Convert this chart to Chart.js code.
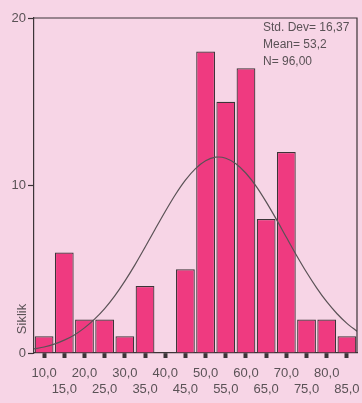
<!DOCTYPE html>
<html>
<head>
<meta charset="utf-8">
<script src="https://cdn.jsdelivr.net/npm/chart.js@4.4.1/dist/chart.umd.min.js"></script>
<style>
    html, body { margin: 0; padding: 0; background: #f7d5e6; }
    #wrap { width: 362px; height: 403px; position: relative; }
</style>
</head>
<body>
<div id="wrap"><canvas id="myChart"></canvas></div>
<script>
// histogram bins (midpoints) and counts
const binMids = [10, 15, 20, 25, 30, 35, 40, 45, 50, 55, 60, 65, 70, 75, 80, 85];
const binLabels = ['10,0', '15,0', '20,0', '25,0', '30,0', '35,0', '40,0', '45,0',
                   '50,0', '55,0', '60,0', '65,0', '70,0', '75,0', '80,0', '85,0'];
const counts = [1, 6, 2, 2, 1, 4, 0, 5, 18, 15, 17, 8, 12, 2, 2, 1];

// normal curve
const curveX = [7.5, 10, 12.5, 15, 17.5, 20, 22.5, 25, 27.5, 30, 32.5, 35, 37.5, 40, 42.5,
                45, 47.5, 50, 52.5, 55, 57.5, 60, 62.5, 65, 67.5, 70, 72.5, 75, 77.5, 80,
                82.5, 85, 87.5];
const curveY = [0.24, 0.36, 0.53, 0.77, 1.08, 1.50, 2.02, 2.65, 3.41, 4.29, 5.26, 6.31, 7.39,
                8.45, 9.45, 10.32, 11.01, 11.48, 11.69, 11.63, 11.30, 10.73, 9.96, 9.02, 7.99,
                6.91, 5.84, 4.82, 3.89, 3.06, 2.36, 1.77, 1.30];

const yTicks = [0, 10, 20];
const stats = ['Std. Dev= 16,37', 'Mean= 53,2', 'N= 96,00'];
const yTitle = 'Siklik';

const ink = '#3c3438';
const textColor = '#5a5256';
const font = '"Liberation Sans", Arial, sans-serif';

const extras = {
    id: 'extras',
    afterDatasetsDraw(chart) {
        const { ctx, chartArea: a } = chart;
        ctx.save();
        ctx.strokeStyle = ink;
        ctx.lineWidth = 1.2;
        ctx.beginPath();
        ctx.moveTo(a.left, a.top);
        ctx.lineTo(a.right, a.top);
        ctx.lineTo(a.right, a.bottom);
        ctx.stroke();

        ctx.fillStyle = textColor;
        ctx.font = '12px ' + font;
        ctx.textBaseline = 'middle';
        ctx.textAlign = 'left';
        stats.forEach((s, i) => ctx.fillText(s, a.right - 94, a.top + 10 + i * 17));

        ctx.font = '13px ' + font;
        ctx.translate(22, a.bottom - 34);
        ctx.rotate(-Math.PI / 2);
        ctx.textAlign = 'center';
        ctx.fillText(yTitle, 0, 0);
        ctx.restore();
    }
};

const data = {
    datasets: [{
        type: 'line',
        data: curveX.map((x, i) => ({ x: x, y: curveY[i] })),
        borderColor: '#5a5256',
        borderWidth: 1.2,
        pointRadius: 0,
        tension: 0.3,
        order: 0
    }, {
        type: 'bar',
        data: binMids.map((x, i) => ({ x: x, y: counts[i] })),
        backgroundColor: '#ef3a80',
        borderColor: ink,
        borderWidth: 1.2,
        barPercentage: 0.93,
        categoryPercentage: 1,
        grouped: false,
        order: 1
    }]
};

const config = {
    type: 'bar',
    data: data,
    plugins: [extras],
    options: {
        responsive: true,
        maintainAspectRatio: false,
        animation: false,
        layout: { padding: { top: 18, right: 5, left: 0, bottom: 0 } },
        plugins: { legend: { display: false }, tooltip: { enabled: false } },
        scales: {
            x: {
                type: 'linear',
                min: 7.5, max: 87.5,
                offset: false,
                afterFit: s => { s.height = 50; s.paddingRight = 0; s.paddingLeft = 0; },
                afterBuildTicks: s => { s.ticks = binMids.map(v => ({ value: v })); },
                grid: { drawOnChartArea: false, offset: false, tickLength: 5, tickWidth: 4, tickColor: ink },
                border: { color: ink, width: 1.2 },
                ticks: {
                    autoSkip: false, maxRotation: 0, padding: 8,
                    color: textColor,
                    font: { family: font, size: 13 },
                    callback: (v, i) => i % 2 === 0 ? [binLabels[i], ''] : ['', binLabels[i]]
                }
            },
            y: {
                min: 0, max: 20,
                afterFit: s => { s.width = 34; },
                afterBuildTicks: s => { s.ticks = yTicks.map(v => ({ value: v })); },
                grid: { drawOnChartArea: false, tickLength: 6, tickColor: ink, tickWidth: 1.2 },
                border: { color: ink, width: 1.2 },
                ticks: {
                    padding: 2,
                    color: textColor,
                    font: { family: font, size: 13 }
                }
            }
        }
    }
};

const myChart = new Chart(document.getElementById('myChart'), config);
</script>
</body>
</html>
